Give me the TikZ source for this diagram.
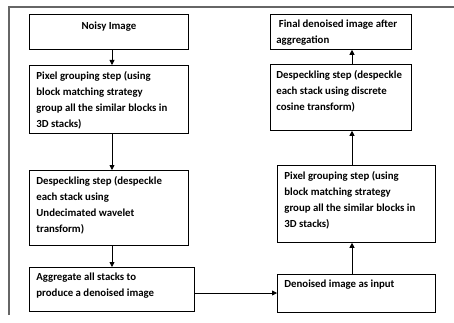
\documentclass[tikz,border=0pt]{standalone}
\usepackage{fontspec}
\setmainfont{Carlito}
\usetikzlibrary{arrows.meta,calc}
\newcommand{\txtfont}{\fontsize{10.8pt}{16pt}\selectfont\bfseries}
\newcommand{\mybx}[3]{\parbox[c][#2][t]{#1}{\raggedright\txtfont\vspace{1pt}#3}}
\begin{document}
\begin{tikzpicture}[x=1pt,y=-1pt,
  box/.style={draw, line width=0.8pt, anchor=north west, inner xsep=7pt, inner ysep=5pt, align=left},
  arr/.style={-{Triangle[length=5pt,width=5pt]}, line width=0.8pt},
  frame/.style={draw=black!60, line width=1.4pt}]
\useasboundingbox (0,0) rectangle (454,323);
\draw[frame] (9,315) -- (9,7) -- (454,7);
\coordinate (lx) at (112,0);
\coordinate (rx) at (352,0);
\coordinate (hy) at (0,293);
% left column
\node[box] (noisy) at (29,14) {\mybx{145pt}{25pt}{\vspace{2pt}\centering\textbf{Noisy Image}\par}};
\node[box] (pgL) at (29,65) {\mybx{145pt}{58pt}{Pixel grouping step (using\\block matching strategy\\group all the similar blocks in\\3D stacks)}};
\node[box] (dsL) at (29,170) {\mybx{145pt}{65pt}{Despeckling step (despeckle\\each stack using\\Undecimated wavelet\\transform)}};
\node[box] (agg) at (29,267) {\mybx{151pt}{34pt}{Aggregate all stacks to\\produce a denoised image}};
% right column
\node[box, inner xsep=6pt] (final) at (270,14) {\mybx{129pt}{25pt}{\ Final denoised image after\\aggregation}};
\node[box, inner xsep=6pt] (dsR) at (270,64) {\mybx{129pt}{56pt}{Despeckling step (despeckle\\each stack using discrete\\cosine transform)}};
\node[box] (pgR) at (277,165) {\mybx{144pt}{67pt}{Pixel grouping step (using\\block matching strategy\\group all the similar blocks in\\3D stacks)}};
\node[box] (inp) at (277,274) {\mybx{144pt}{28pt}{Denoised image as input}};
% connectors
\draw[arr] (noisy.south -| lx) -- (pgL.north -| lx);
\draw[arr] (pgL.south -| lx) -- (dsL.north -| lx);
\draw[arr] (dsL.south -| lx) -- (agg.north -| lx);
\draw[arr] (agg.east |- hy) -- (inp.west |- hy);
\draw[arr] (inp.north -| rx) -- (pgR.south -| rx);
\draw[arr] (pgR.north -| rx) -- (dsR.south -| rx);
\draw[arr] (dsR.north -| rx) -- (final.south -| rx);
\end{tikzpicture}
\end{document}
